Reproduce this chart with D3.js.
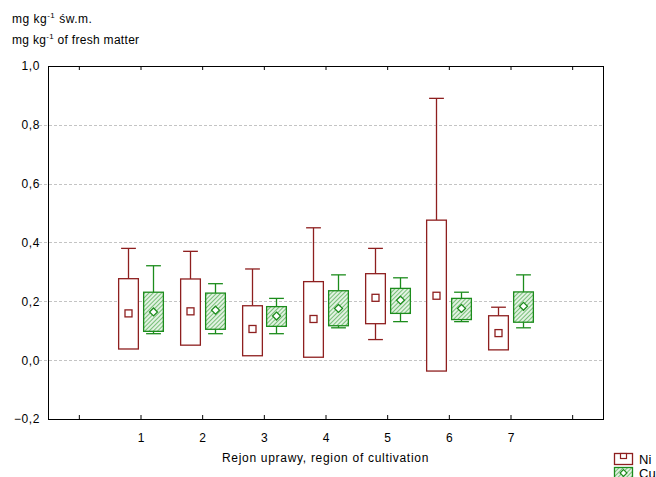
<!DOCTYPE html>
<html lang="en">
<head>
<meta charset="utf-8">
<title>Ni / Cu box plot</title>
<script src="https://cdn.jsdelivr.net/npm/d3@7" charset="utf-8"></script>
<style>
  body { margin: 0; background: #fff; }
  text { font-family: "Liberation Sans", Arial, sans-serif; fill: #000; }
</style>
</head>
<body>
<script type="text/javascript">

var width = 656;
var height = 477;

// data
var regions = [1, 2, 3, 4, 5, 6, 7];

var niMax = [0.38, 0.37, 0.31, 0.45, 0.38, 0.89, 0.18];
var niQ3  = [0.277, 0.276, 0.185, 0.267, 0.294, 0.476, 0.151];
var niMed = [0.159, 0.166, 0.106, 0.14, 0.212, 0.219, 0.092];
var niQ1  = [0.038, 0.051, 0.015, 0.01, 0.124, -0.037, 0.035];
var niMin = [0.038, 0.051, 0.015, 0.01, 0.07, -0.037, 0.035];

var cuMax = [0.321, 0.26, 0.21, 0.29, 0.28, 0.231, 0.29];
var cuQ3  = [0.231, 0.228, 0.182, 0.236, 0.244, 0.21, 0.232];
var cuMed = [0.164, 0.17, 0.15, 0.176, 0.204, 0.176, 0.183];
var cuQ1  = [0.098, 0.105, 0.115, 0.117, 0.159, 0.138, 0.129];
var cuMin = [0.09, 0.09, 0.09, 0.11, 0.131, 0.131, 0.11];

var yTicks = [-0.2, 0, 0.2, 0.4, 0.6, 0.8, 1.0];
var xTicks = [0, 1, 2, 3, 4, 5, 6, 7, 8];

var niColor = "#8e1f1f";
var cuColor = "#1c8c1c";

var plotLeft = 48, plotRight = 603, plotTop = 66, plotBottom = 419;

var x = d3.scaleLinear().domain([-0.5, 8.5]).range([plotLeft, plotRight]);
var y = d3.scaleLinear().domain([-0.2, 1.0]).range([plotBottom, plotTop]);

var svg = d3.select("body").append("svg")
            .attr("width", width)
            .attr("height", height);

// hatch pattern for Cu boxes
var defs = svg.append("defs");
var pat = defs.append("pattern")
              .attr("id", "hatch")
              .attr("patternUnits", "userSpaceOnUse")
              .attr("width", 3)
              .attr("height", 3)
              .attr("patternTransform", "rotate(45)");
pat.append("rect").attr("width", 3).attr("height", 3).attr("fill", "#e2f2e2");
pat.append("line")
   .attr("x1", 0).attr("y1", 0).attr("x2", 0).attr("y2", 3)
   .attr("stroke", "#4aa94a").attr("stroke-width", 1.4);

// gridlines
svg.append("g")
   .selectAll("line")
   .data(yTicks.filter(function(d) { return d > -0.2 && d < 1.0; }))
   .enter()
   .append("line")
   .attr("x1", plotLeft - 9)
   .attr("x2", plotRight)
   .attr("y1", function(d) { return Math.round(y(d)) + 0.5; })
   .attr("y2", function(d) { return Math.round(y(d)) + 0.5; })
   .attr("stroke", "#c4c4c4")
   .attr("stroke-dasharray", "3,2");

// axes
var yAxis = d3.axisLeft(y)
              .tickValues(yTicks)
              .tickSize(0)
              .tickPadding(8)
              .tickFormat(function(d) { return d3.format(".1f")(d).replace(".", ","); });
var gy = svg.append("g").attr("transform", "translate(" + plotLeft + ",0)").call(yAxis);
gy.select(".domain").remove();
gy.selectAll("text").attr("font-size", 12).style("letter-spacing", "0.6px");

var xAxis = d3.axisBottom(x)
              .tickValues(xTicks)
              .tickSize(-4)
              .tickPadding(14)
              .tickFormat(function(d) { return (d >= 1 && d <= 7) ? d : ""; });
var gx = svg.append("g").attr("transform", "translate(0," + plotBottom + ")").call(xAxis);
gx.select(".domain").remove();
gx.selectAll("line").attr("stroke", "#000");
gx.selectAll("text").attr("font-size", 12);

var xTop = d3.axisTop(x).tickValues(xTicks).tickSize(-4).tickFormat("");
var gt = svg.append("g").attr("transform", "translate(0," + plotTop + ")").call(xTop);
gt.select(".domain").remove();
gt.selectAll("line").attr("stroke", "#000");

// frame
svg.append("rect")
   .attr("x", plotLeft + 0.5)
   .attr("y", plotTop + 0.5)
   .attr("width", plotRight - plotLeft)
   .attr("height", plotBottom - plotTop)
   .attr("fill", "none")
   .attr("stroke", "#000");

// boxes
var half = x(0.16) - x(0);
var cap = x(0.12) - x(0);

function drawSeries(id, offset, mx, q3, md, q1, mn, color, fill) {
  var g = svg.append("g").attr("class", id);
  regions.forEach(function(r, i) {
    var cx = Math.round(x(r + offset)) + 0.5;
    // whiskers
    g.append("line").attr("x1", cx).attr("x2", cx)
     .attr("y1", y(mx[i])).attr("y2", y(q3[i]))
     .attr("stroke", color).attr("stroke-width", 1.3);
    g.append("line").attr("x1", cx - cap).attr("x2", cx + cap)
     .attr("y1", y(mx[i])).attr("y2", y(mx[i]))
     .attr("stroke", color).attr("stroke-width", 1.3);
    if (mn[i] < q1[i]) {
      g.append("line").attr("x1", cx).attr("x2", cx)
       .attr("y1", y(q1[i])).attr("y2", y(mn[i]))
       .attr("stroke", color).attr("stroke-width", 1.3);
      g.append("line").attr("x1", cx - cap).attr("x2", cx + cap)
       .attr("y1", y(mn[i])).attr("y2", y(mn[i]))
       .attr("stroke", color).attr("stroke-width", 1.3);
    }
    g.append("rect")
     .attr("x", cx - half)
     .attr("y", y(q3[i]))
     .attr("width", 2 * half)
     .attr("height", y(q1[i]) - y(q3[i]))
     .attr("fill", fill)
     .attr("stroke", color)
     .attr("stroke-width", 1.3);
    if (id === "ni") {
      g.append("rect")
       .attr("x", cx - 3.5).attr("y", y(md[i]) - 3.5)
       .attr("width", 7).attr("height", 7)
       .attr("fill", "#fff").attr("stroke", color).attr("stroke-width", 1.3);
    } else {
      g.append("path")
       .attr("d", d3.symbol().type(d3.symbolDiamond2).size(40)())
       .attr("transform", "translate(" + cx + "," + y(md[i]) + ")")
       .attr("fill", "#fff").attr("stroke", color).attr("stroke-width", 1.3);
    }
  });
}

drawSeries("ni", -0.2, niMax, niQ3, niMed, niQ1, niMin, niColor, "#fff");
drawSeries("cu", 0.2, cuMax, cuQ3, cuMed, cuQ1, cuMin, cuColor, "url(#hatch)");

// titles
svg.append("text").attr("x", 12).attr("y", 23).attr("font-size", 12)
   .style("letter-spacing", "0.5px")
   .html("mg kg<tspan dy='-5' font-size='8'>-1</tspan><tspan dy='5'> św.m.</tspan>");
svg.append("text").attr("x", 12).attr("y", 44).attr("font-size", 12)
   .style("letter-spacing", "0.3px")
   .html("mg kg<tspan dy='-5' font-size='8'>-1</tspan><tspan dy='5'> of fresh matter</tspan>");

svg.append("text")
   .attr("x", x(4))
   .attr("y", 462)
   .attr("text-anchor", "middle")
   .attr("font-size", 12)
   .style("letter-spacing", "0.7px")
   .text("Rejon uprawy, region of cultivation");

// legend
var legend = [
  { name: "Ni", color: niColor, fill: "#fff", y: 453 },
  { name: "Cu", color: cuColor, fill: "url(#hatch)", y: 467 }
];
legend.forEach(function(d) {
  svg.append("rect").attr("x", 614.5).attr("y", d.y + 0.5)
     .attr("width", 18).attr("height", 11)
     .attr("fill", d.fill).attr("stroke", d.color).attr("stroke-width", 1.3);
  if (d.name === "Ni") {
    svg.append("rect").attr("x", 620.5).attr("y", d.y + 0.5)
       .attr("width", 6).attr("height", 5)
       .attr("fill", "#fff").attr("stroke", d.color).attr("stroke-width", 1.2);
  } else {
    svg.append("path")
       .attr("d", d3.symbol().type(d3.symbolDiamond2).size(30)())
       .attr("transform", "translate(623.5," + (d.y + 6) + ")")
       .attr("fill", "#fff").attr("stroke", d.color).attr("stroke-width", 1.2);
  }
  svg.append("text").attr("x", 639).attr("y", d.y + 11)
     .attr("font-size", 13).text(d.name);
});

</script>
</body>
</html>
